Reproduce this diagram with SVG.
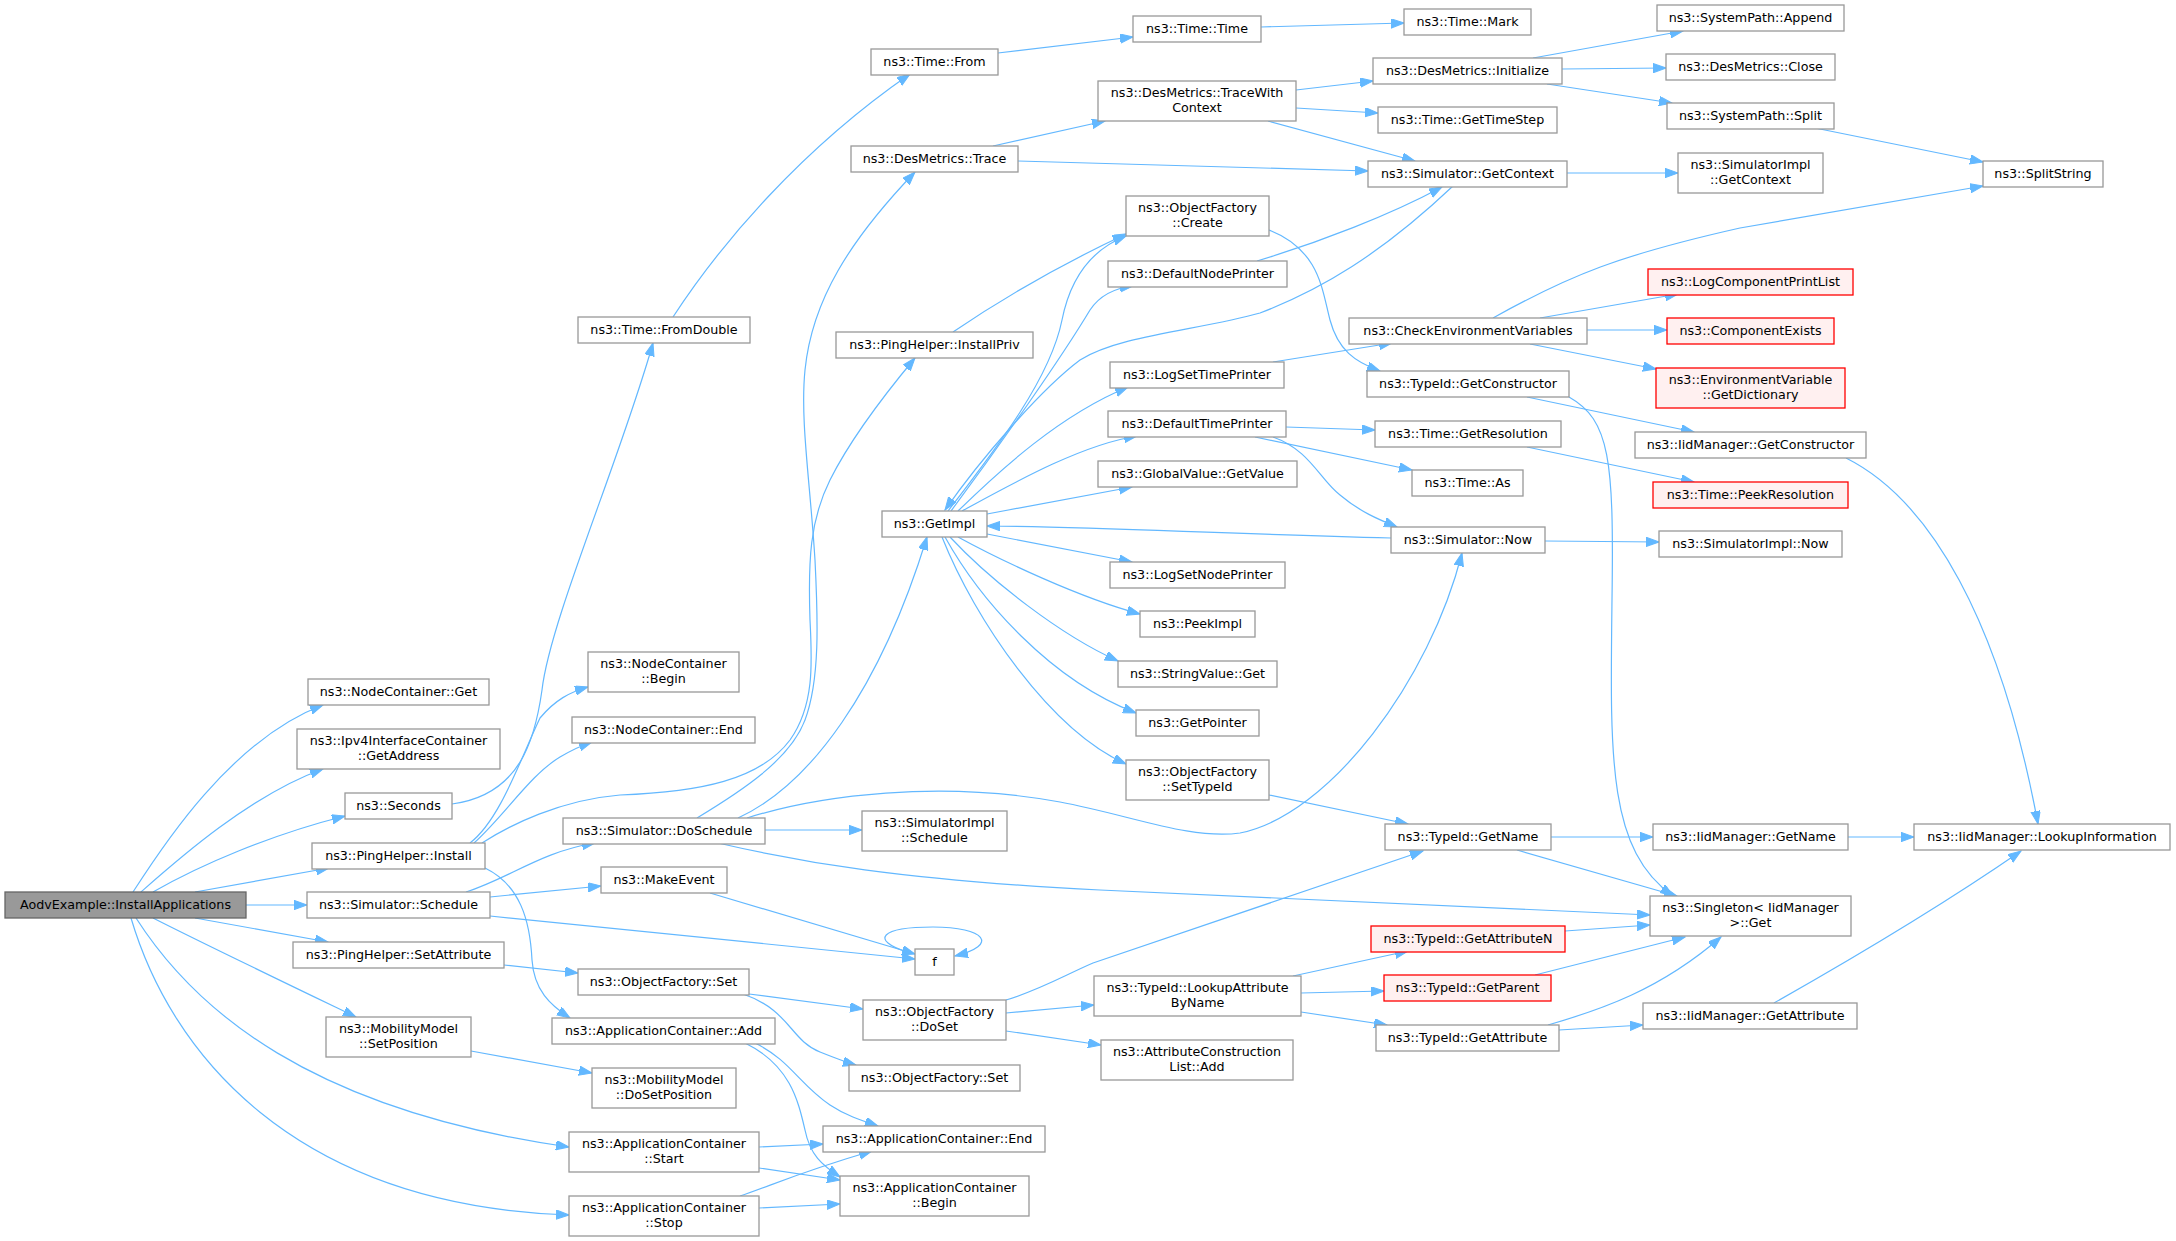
<svg xmlns="http://www.w3.org/2000/svg" width="2176" height="1241" viewBox="0 0 2176 1241">
<style>
.n rect{fill:#ffffff;stroke:#999999;stroke-width:1.3}
.m rect{fill:#999999;stroke:#666666;stroke-width:1.3}
.r rect{fill:#FFF0F0;stroke:#FF0000;stroke-width:1.3}
text{font-family:"DejaVu Sans","Liberation Sans",sans-serif;font-size:12.7px;fill:#000000;text-anchor:middle}
#edges path{fill:none;stroke:#63B8FF;stroke-width:1.2;marker-end:url(#ah)}
</style>
<defs>
<marker id="ah" markerUnits="userSpaceOnUse" markerWidth="14" markerHeight="10" refX="13" refY="4.7" orient="auto">
<path d="M0,0 L13,4.7 L0,9.4 z" fill="#63B8FF" stroke="#63B8FF" stroke-width="1"/>
</marker>
</defs>
<rect x="0" y="0" width="2176" height="1241" fill="#ffffff"/>
<g id="edges">
<path d="M133,892 C160,850 230,740 323,705"/>
<path d="M141,892 C175,862 250,795 323,769"/>
<path d="M153,892 C200,865 270,835 345,816"/>
<path d="M195,892 L329,868"/>
<path d="M246,905 L307,905"/>
<path d="M195,918 L328,942"/>
<path d="M153,918 C200,942 300,990 356,1017"/>
<path d="M136,918 C195,1010 310,1110 569,1147"/>
<path d="M131,918 C170,1050 290,1205 569,1215"/>
<path d="M452,804 C520,795 535,740 542,690 C550,620 620,460 653,343"/>
<path d="M470,843 C500,820 520,760 540,718 C555,700 570,692 588,687"/>
<path d="M474,843 C505,815 530,775 560,757 C572,750 580,746 592,742"/>
<path d="M482,843 C510,825 560,800 620,795 C700,792 760,780 790,740 C815,705 812,660 810,620 C808,560 810,520 830,480 C850,440 880,400 915,358"/>
<path d="M485,868 C520,885 530,920 532,960 C534,990 550,1005 570,1018"/>
<path d="M466,892 C510,878 540,852 595,843"/>
<path d="M490,897 L601,886"/>
<path d="M490,916 L915,959"/>
<path d="M504,965 L578,973"/>
<path d="M471,1051 L592,1073"/>
<path d="M673,317 C720,245 800,150 910,74"/>
<path d="M697,818 C740,792 790,760 805,720 C820,680 818,620 815,560 C810,480 800,420 805,370 C812,300 850,240 915,172"/>
<path d="M738,818 C810,785 880,690 927,537"/>
<path d="M765,830 L862,830"/>
<path d="M747,818 C820,795 940,780 1060,802 C1130,815 1190,840 1240,833 C1330,815 1430,680 1462,553"/>
<path d="M718,843 C800,862 900,880 1100,890 L1650,915"/>
<path d="M710,893 L915,954"/>
<path d="M749,994 L863,1009"/>
<path d="M743,994 C790,1010 790,1040 820,1052 C835,1058 845,1062 856,1065"/>
<path d="M755,1043 C790,1060 800,1085 830,1105 C845,1115 860,1120 878,1126"/>
<path d="M745,1043 C790,1065 798,1100 805,1130 C810,1155 822,1165 840,1177"/>
<path d="M759,1147 L823,1144"/>
<path d="M759,1168 L840,1180"/>
<path d="M740,1196 C770,1186 800,1172 872,1151"/>
<path d="M759,1208 L840,1204"/>
<path d="M998,53 L1133,37"/>
<path d="M993,146 L1105,121"/>
<path d="M1018,161 L1368,171"/>
<path d="M953,332 C1000,300 1060,265 1126,234"/>
<path d="M948,511 C995,450 1050,380 1062,320 C1070,280 1090,250 1126,236"/>
<path d="M951,511 C1000,445 1060,360 1090,310 C1100,295 1115,288 1133,286"/>
<path d="M1453,186 C1380,255 1320,290 1260,313 C1200,330 1120,335 1080,360 C1040,390 980,460 945,510"/>
<path d="M958,511 C1000,470 1060,415 1128,387"/>
<path d="M962,511 C1010,485 1080,445 1137,436"/>
<path d="M987,514 L1132,487"/>
<path d="M1391,538 C1200,533 1100,527 987,526"/>
<path d="M987,534 L1132,562"/>
<path d="M958,537 C1000,560 1080,598 1140,614"/>
<path d="M950,537 C990,580 1060,635 1118,661"/>
<path d="M945,537 C980,600 1050,680 1136,713"/>
<path d="M942,537 C975,620 1050,730 1126,764"/>
<path d="M907,952 C870,940 880,927 933,927 C985,927 1000,945 955,956"/>
<path d="M1006,1000 C1040,990 1065,975 1093,963 L1423,851"/>
<path d="M1006,1013 L1094,1005"/>
<path d="M1006,1031 L1101,1045"/>
<path d="M1261,27 L1404,23"/>
<path d="M1296,90 L1373,81"/>
<path d="M1296,108 L1378,113"/>
<path d="M1268,121 L1415,161"/>
<path d="M1269,230 C1320,250 1322,290 1330,320 C1338,350 1355,362 1380,371"/>
<path d="M1257,261 C1320,242 1390,215 1442,187"/>
<path d="M1273,362 L1392,343"/>
<path d="M1286,427 L1375,430"/>
<path d="M1255,437 L1412,470"/>
<path d="M1273,437 C1310,450 1320,480 1340,495 C1360,512 1380,520 1397,527"/>
<path d="M1269,795 L1408,824"/>
<path d="M1293,976 L1408,951"/>
<path d="M1301,993 L1384,991"/>
<path d="M1301,1012 L1387,1025"/>
<path d="M1533,58 L1683,31"/>
<path d="M1562,69 L1666,68"/>
<path d="M1547,84 L1672,103"/>
<path d="M1567,173 L1678,173"/>
<path d="M1493,318 C1570,275 1620,255 1740,228 L1983,186"/>
<path d="M1540,318 L1678,294"/>
<path d="M1587,330 L1667,330"/>
<path d="M1530,344 L1656,369"/>
<path d="M1527,397 L1694,432"/>
<path d="M1569,397 C1610,420 1614,460 1612,600 C1610,760 1608,850 1673,896"/>
<path d="M1527,447 L1694,482"/>
<path d="M1545,541 L1659,542"/>
<path d="M1551,837 L1653,837"/>
<path d="M1517,850 L1677,896"/>
<path d="M1565,931 L1650,925"/>
<path d="M1535,975 L1685,937"/>
<path d="M1548,1025 C1600,1010 1660,990 1721,937"/>
<path d="M1559,1030 L1643,1025"/>
<path d="M1815,128 L1983,162"/>
<path d="M1848,837 L1914,837"/>
<path d="M1846,458 C1930,500 2000,620 2038,824"/>
<path d="M1774,1003 C1850,960 1950,900 2021,851"/>
</g>
<g id="aodv" class="m"><rect x="5" y="892" width="241" height="26"/><text x="125.5" y="909">AodvExample::InstallApplications</text></g>
<g id="ncget" class="n"><rect x="308" y="679" width="181" height="26"/><text x="398.5" y="696">ns3::NodeContainer::Get</text></g>
<g id="ipv4" class="n"><rect x="297" y="729" width="203" height="40"/><text x="398.5" y="745">ns3::Ipv4InterfaceContainer</text><text x="398.5" y="760">::GetAddress</text></g>
<g id="seconds" class="n"><rect x="345" y="793" width="107" height="26"/><text x="398.5" y="810">ns3::Seconds</text></g>
<g id="install" class="n"><rect x="312" y="843" width="173" height="26"/><text x="398.5" y="860">ns3::PingHelper::Install</text></g>
<g id="schedule" class="n"><rect x="307" y="892" width="183" height="26"/><text x="398.5" y="909">ns3::Simulator::Schedule</text></g>
<g id="setattr" class="n"><rect x="293" y="942" width="211" height="26"/><text x="398.5" y="959">ns3::PingHelper::SetAttribute</text></g>
<g id="setpos" class="n"><rect x="326" y="1017" width="145" height="40"/><text x="398.5" y="1033">ns3::MobilityModel</text><text x="398.5" y="1048">::SetPosition</text></g>
<g id="fromdouble" class="n"><rect x="578" y="317" width="172" height="26"/><text x="664" y="334">ns3::Time::FromDouble</text></g>
<g id="ncbegin" class="n"><rect x="588" y="652" width="151" height="40"/><text x="663.5" y="668">ns3::NodeContainer</text><text x="663.5" y="683">::Begin</text></g>
<g id="ncend" class="n"><rect x="572" y="717" width="183" height="26"/><text x="663.5" y="734">ns3::NodeContainer::End</text></g>
<g id="doschedule" class="n"><rect x="563" y="818" width="202" height="26"/><text x="664" y="835">ns3::Simulator::DoSchedule</text></g>
<g id="makeevent" class="n"><rect x="601" y="867" width="126" height="26"/><text x="664" y="884">ns3::MakeEvent</text></g>
<g id="ofset1" class="n"><rect x="578" y="969" width="171" height="26"/><text x="663.5" y="986">ns3::ObjectFactory::Set</text></g>
<g id="acadd" class="n"><rect x="552" y="1018" width="223" height="26"/><text x="663.5" y="1035">ns3::ApplicationContainer::Add</text></g>
<g id="dosetpos" class="n"><rect x="592" y="1068" width="144" height="40"/><text x="664" y="1084">ns3::MobilityModel</text><text x="664" y="1099">::DoSetPosition</text></g>
<g id="acstart" class="n"><rect x="569" y="1132" width="190" height="40"/><text x="664" y="1148">ns3::ApplicationContainer</text><text x="664" y="1163">::Start</text></g>
<g id="acstop" class="n"><rect x="569" y="1196" width="190" height="40"/><text x="664" y="1212">ns3::ApplicationContainer</text><text x="664" y="1227">::Stop</text></g>
<g id="timefrom" class="n"><rect x="871" y="49" width="127" height="26"/><text x="934.5" y="66">ns3::Time::From</text></g>
<g id="trace" class="n"><rect x="851" y="146" width="167" height="26"/><text x="934.5" y="163">ns3::DesMetrics::Trace</text></g>
<g id="installpriv" class="n"><rect x="836" y="332" width="197" height="26"/><text x="934.5" y="349">ns3::PingHelper::InstallPriv</text></g>
<g id="getimpl" class="n"><rect x="882" y="511" width="105" height="26"/><text x="934.5" y="528">ns3::GetImpl</text></g>
<g id="simimplsched" class="n"><rect x="862" y="811" width="145" height="40"/><text x="934.5" y="827">ns3::SimulatorImpl</text><text x="934.5" y="842">::Schedule</text></g>
<g id="f" class="n"><rect x="915" y="949" width="39" height="26"/><text x="934.5" y="966">f</text></g>
<g id="doset" class="n"><rect x="863" y="1000" width="143" height="40"/><text x="934.5" y="1016">ns3::ObjectFactory</text><text x="934.5" y="1031">::DoSet</text></g>
<g id="ofset2" class="n"><rect x="849" y="1065" width="171" height="26"/><text x="934.5" y="1082">ns3::ObjectFactory::Set</text></g>
<g id="acend" class="n"><rect x="823" y="1126" width="222" height="26"/><text x="934" y="1143">ns3::ApplicationContainer::End</text></g>
<g id="acbegin" class="n"><rect x="840" y="1176" width="189" height="40"/><text x="934.5" y="1192">ns3::ApplicationContainer</text><text x="934.5" y="1207">::Begin</text></g>
<g id="timetime" class="n"><rect x="1133" y="16" width="128" height="26"/><text x="1197" y="33">ns3::Time::Time</text></g>
<g id="tracewc" class="n"><rect x="1098" y="81" width="198" height="40"/><text x="1197" y="97">ns3::DesMetrics::TraceWith</text><text x="1197" y="112">Context</text></g>
<g id="create" class="n"><rect x="1126" y="196" width="143" height="40"/><text x="1197.5" y="212">ns3::ObjectFactory</text><text x="1197.5" y="227">::Create</text></g>
<g id="defnodeprinter" class="n"><rect x="1108" y="261" width="179" height="26"/><text x="1197.5" y="278">ns3::DefaultNodePrinter</text></g>
<g id="logsettime" class="n"><rect x="1110" y="362" width="174" height="26"/><text x="1197" y="379">ns3::LogSetTimePrinter</text></g>
<g id="deftimeprinter" class="n"><rect x="1108" y="411" width="178" height="26"/><text x="1197" y="428">ns3::DefaultTimePrinter</text></g>
<g id="globalvalue" class="n"><rect x="1098" y="461" width="199" height="26"/><text x="1197.5" y="478">ns3::GlobalValue::GetValue</text></g>
<g id="logsetnode" class="n"><rect x="1110" y="562" width="175" height="26"/><text x="1197.5" y="579">ns3::LogSetNodePrinter</text></g>
<g id="peekimpl" class="n"><rect x="1140" y="611" width="115" height="26"/><text x="1197.5" y="628">ns3::PeekImpl</text></g>
<g id="stringvalue" class="n"><rect x="1118" y="661" width="159" height="26"/><text x="1197.5" y="678">ns3::StringValue::Get</text></g>
<g id="getpointer" class="n"><rect x="1136" y="710" width="123" height="26"/><text x="1197.5" y="727">ns3::GetPointer</text></g>
<g id="settypeid" class="n"><rect x="1126" y="760" width="143" height="40"/><text x="1197.5" y="776">ns3::ObjectFactory</text><text x="1197.5" y="791">::SetTypeId</text></g>
<g id="lookupattr" class="n"><rect x="1094" y="976" width="207" height="40"/><text x="1197.5" y="992">ns3::TypeId::LookupAttribute</text><text x="1197.5" y="1007">ByName</text></g>
<g id="attrconst" class="n"><rect x="1101" y="1040" width="192" height="40"/><text x="1197" y="1056">ns3::AttributeConstruction</text><text x="1197" y="1071">List::Add</text></g>
<g id="timemark" class="n"><rect x="1404" y="9" width="127" height="26"/><text x="1467.5" y="26">ns3::Time::Mark</text></g>
<g id="initialize" class="n"><rect x="1373" y="58" width="189" height="26"/><text x="1467.5" y="75">ns3::DesMetrics::Initialize</text></g>
<g id="gettimestep" class="n"><rect x="1378" y="107" width="179" height="26"/><text x="1467.5" y="124">ns3::Time::GetTimeStep</text></g>
<g id="getcontext" class="n"><rect x="1368" y="161" width="199" height="26"/><text x="1467.5" y="178">ns3::Simulator::GetContext</text></g>
<g id="checkenv" class="n"><rect x="1349" y="318" width="238" height="26"/><text x="1468" y="335">ns3::CheckEnvironmentVariables</text></g>
<g id="getconstructor" class="n"><rect x="1367" y="371" width="202" height="26"/><text x="1468" y="388">ns3::TypeId::GetConstructor</text></g>
<g id="getresolution" class="n"><rect x="1375" y="421" width="186" height="26"/><text x="1468" y="438">ns3::Time::GetResolution</text></g>
<g id="timeas" class="n"><rect x="1412" y="470" width="111" height="26"/><text x="1467.5" y="487">ns3::Time::As</text></g>
<g id="now" class="n"><rect x="1391" y="527" width="154" height="26"/><text x="1468" y="544">ns3::Simulator::Now</text></g>
<g id="getname" class="n"><rect x="1385" y="824" width="166" height="26"/><text x="1468" y="841">ns3::TypeId::GetName</text></g>
<g id="getattrn" class="r"><rect x="1371" y="926" width="194" height="26"/><text x="1468" y="943">ns3::TypeId::GetAttributeN</text></g>
<g id="getparent" class="r"><rect x="1384" y="975" width="167" height="26"/><text x="1467.5" y="992">ns3::TypeId::GetParent</text></g>
<g id="getattribute" class="n"><rect x="1376" y="1025" width="183" height="26"/><text x="1467.5" y="1042">ns3::TypeId::GetAttribute</text></g>
<g id="append" class="n"><rect x="1657" y="5" width="187" height="26"/><text x="1750.5" y="22">ns3::SystemPath::Append</text></g>
<g id="close" class="n"><rect x="1666" y="54" width="169" height="26"/><text x="1750.5" y="71">ns3::DesMetrics::Close</text></g>
<g id="split" class="n"><rect x="1667" y="103" width="167" height="26"/><text x="1750.5" y="120">ns3::SystemPath::Split</text></g>
<g id="simimplgetctx" class="n"><rect x="1678" y="153" width="145" height="40"/><text x="1750.5" y="169">ns3::SimulatorImpl</text><text x="1750.5" y="184">::GetContext</text></g>
<g id="logcomp" class="r"><rect x="1648" y="269" width="205" height="26"/><text x="1750.5" y="286">ns3::LogComponentPrintList</text></g>
<g id="compexists" class="r"><rect x="1667" y="318" width="167" height="26"/><text x="1750.5" y="335">ns3::ComponentExists</text></g>
<g id="envdict" class="r"><rect x="1656" y="368" width="189" height="40"/><text x="1750.5" y="384">ns3::EnvironmentVariable</text><text x="1750.5" y="399">::GetDictionary</text></g>
<g id="iidgetctor" class="n"><rect x="1635" y="432" width="231" height="26"/><text x="1750.5" y="449">ns3::IidManager::GetConstructor</text></g>
<g id="peekres" class="r"><rect x="1653" y="482" width="195" height="26"/><text x="1750.5" y="499">ns3::Time::PeekResolution</text></g>
<g id="simimplnow" class="n"><rect x="1659" y="531" width="183" height="26"/><text x="1750.5" y="548">ns3::SimulatorImpl::Now</text></g>
<g id="iidgetname" class="n"><rect x="1653" y="824" width="195" height="26"/><text x="1750.5" y="841">ns3::IidManager::GetName</text></g>
<g id="singleton" class="n"><rect x="1650" y="896" width="201" height="40"/><text x="1750.5" y="912">ns3::Singleton&lt; IidManager</text><text x="1750.5" y="927">&gt;::Get</text></g>
<g id="iidgetattr" class="n"><rect x="1643" y="1003" width="214" height="26"/><text x="1750" y="1020">ns3::IidManager::GetAttribute</text></g>
<g id="splitstring" class="n"><rect x="1983" y="161" width="120" height="26"/><text x="2043" y="178">ns3::SplitString</text></g>
<g id="lookupinfo" class="n"><rect x="1914" y="824" width="256" height="26"/><text x="2042" y="841">ns3::IidManager::LookupInformation</text></g>
</svg>
